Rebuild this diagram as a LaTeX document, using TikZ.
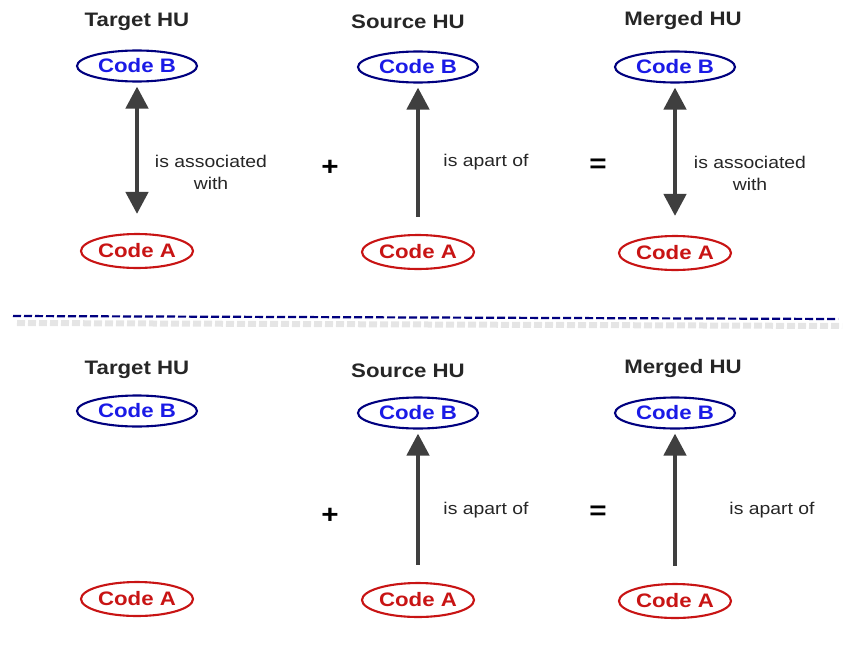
\documentclass[tikz,border=0pt]{standalone}
\usepackage{fontspec}
\setmainfont{Liberation Sans}[FakeStretch=1.14]
\usetikzlibrary{positioning,arrows.meta,shapes.geometric}
\definecolor{codeblue}{HTML}{1A1AE6}
\definecolor{navyline}{HTML}{00007F}
\definecolor{codered}{HTML}{C81414}
\definecolor{arrowgray}{HTML}{3F3F3F}

\begin{document}
\begin{tikzpicture}[x=1pt, y=-1pt, code/.style = {ellipse, draw, line width=2.1pt, inner sep=0pt, font=\fontsize{19.5}{19.5}\selectfont\bfseries}, codeb/.style={code, draw=navyline, text=codeblue, minimum width=120pt, minimum height=31pt}, codea/.style={code, draw=codered, text=codered, minimum width=112pt, minimum height=34pt}, hu/.style={font=\fontsize{19.5}{19.5}\selectfont\bfseries, text=black!85}, rel/.style={font=\fontsize{17}{22}\selectfont, text=black!85, align=center}, op/.style={font=\fontsize{26}{26}\selectfont\bfseries}, link/.style={draw=arrowgray, line width=4.5pt, -{Triangle[width=22pt,length=22pt]}, shorten >=4pt, shorten <=17pt}, both/.style={link, {Triangle[width=22pt,length=22pt]}-{Triangle[width=22pt,length=22pt]}, shorten <=19pt}]
\useasboundingbox (0,0) rectangle (851,664);

% top half
\node[hu] (t1) at (137,22) {Target HU};
\node[hu] (s1) at (408,22) {Source HU};
\node[hu] (m1) at (683,20) {Merged HU};
\node[codeb] (tb1) at (137,66) {Code B};
\node[codea] (ta1) at (137,251) {Code A};
\node[codeb] (sb1) at (418,67) {Code B};
\node[codea] (sa1) at (418,252) {Code A};
\node[codeb] (mb1) at (675,67) {Code B};
\node[codea] (ma1) at (675,253) {Code A};
\node[rel] (r1) at (211,172) {is associated\\with};
\node[rel] (r2) at (486,162) {is apart of};
\node[rel] (r3) at (750,173) {is associated\\with};
\node[op] (plus1) at (330,168) {+};
\node[op] (eq1) at (598,166) {=};

\path
 (ta1) edge[both] (tb1)
 (sa1) edge[link] (sb1)
 (ma1) edge[both] (mb1);

% divider
\coordinate (d1) at (13,316);
\coordinate (d2) at (838,319);
\draw[black!10, line width=6pt, dash pattern=on 8pt off 3pt, transform canvas={xshift=4pt, yshift=-7pt}] (d1) -- (d2);
\draw[navyline, line width=2.2pt, dash pattern=on 8pt off 3pt] (d1) -- (d2);

% bottom half
\node[hu] (t2) at (137,370) {Target HU};
\node[hu] (s2) at (408,371) {Source HU};
\node[hu] (m2) at (683,368) {Merged HU};
\node[codeb] (tb2) at (137,411) {Code B};
\node[codea] (ta2) at (137,599) {Code A};
\node[codeb] (sb2) at (418,413) {Code B};
\node[codea] (sa2) at (418,600) {Code A};
\node[codeb] (mb2) at (675,413) {Code B};
\node[codea] (ma2) at (675,601) {Code A};
\node[rel] (r4) at (486,510) {is apart of};
\node[rel] (r5) at (772,510) {is apart of};
\node[op] (plus2) at (330,516) {+};
\node[op] (eq2) at (598,513) {=};

\path
 (sa2) edge[link] (sb2)
 (ma2) edge[link] (mb2);
\end{tikzpicture}
\end{document}
